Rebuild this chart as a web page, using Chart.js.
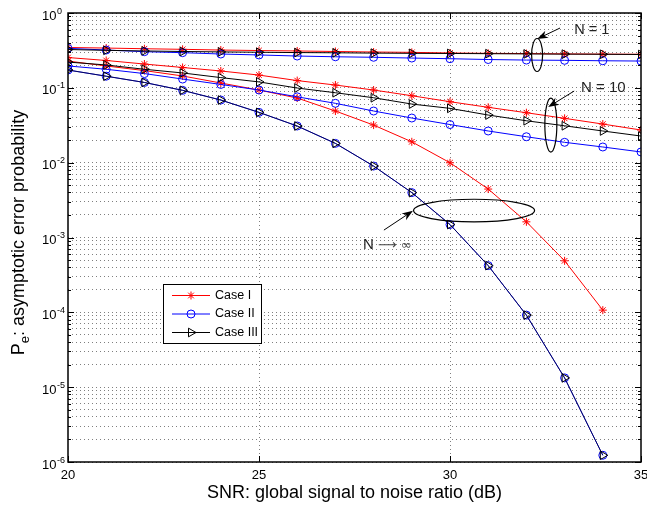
<!DOCTYPE html>
<html>
<head>
<meta charset="utf-8">
<script src="https://cdn.jsdelivr.net/npm/chart.js@4.4.1/dist/chart.umd.min.js"></script>
<style>
  body { margin: 0; background: #fff; }
  #wrap { width: 647px; height: 506px; }
</style>
</head>
<body>
<div id="wrap"><canvas id="chart" width="647" height="506"></canvas></div>
<script>
const FONT = '"Liberation Sans", Arial, Helvetica, sans-serif';

// -------- Data --------
const snr = [20, 21, 22, 23, 24, 25, 26, 27, 28, 29, 30, 31, 32, 33, 34, 35];
const snrInf = [20, 21, 22, 23, 24, 25, 26, 27, 28, 29, 30, 31, 32, 33, 34];
const xTicks = [20, 25, 30, 35];
const yDecades = [-6, -5, -4, -3, -2, -1, 0];
const yMinor = [2, 3, 4, 5, 6, 7, 8, 9];

// N = 1
const caseI_N1   = [0.346, 0.340, 0.333, 0.327, 0.320, 0.315, 0.311, 0.306, 0.301, 0.298, 0.292, 0.289, 0.287, 0.284, 0.282, 0.281];
const caseII_N1  = [0.337, 0.320, 0.304, 0.295, 0.283, 0.275, 0.266, 0.260, 0.256, 0.250, 0.245, 0.239, 0.235, 0.233, 0.230, 0.228];
const caseIII_N1 = [0.325, 0.317, 0.311, 0.306, 0.302, 0.299, 0.296, 0.294, 0.291, 0.289, 0.288, 0.286, 0.284, 0.282, 0.281, 0.279];
// N = 10
const caseI_N10   = [0.254, 0.232, 0.208, 0.187, 0.168, 0.148, 0.125, 0.109, 0.0935, 0.0784, 0.0652, 0.0549, 0.0465, 0.0391, 0.0328, 0.0273];
const caseII_N10  = [0.196, 0.177, 0.155, 0.131, 0.111, 0.0935, 0.0758, 0.0621, 0.0490, 0.0395, 0.0323, 0.0265, 0.0222, 0.0187, 0.0162, 0.0139];
const caseIII_N10 = [0.221, 0.202, 0.177, 0.158, 0.137, 0.120, 0.0994, 0.0860, 0.0737, 0.0607, 0.0532, 0.0433, 0.0363, 0.0311, 0.0265, 0.0227];
// N -> infinity
const caseI_Inf   = [0.228, 0.196, 0.170, 0.144, 0.116, 0.0935, 0.0731, 0.0490, 0.0318, 0.0190, 0.00997, 0.00444, 0.00162, 0.000488, 0.000107];
const caseII_Inf  = [0.173, 0.143, 0.118, 0.0926, 0.0687, 0.0470, 0.0309, 0.0181, 0.00901, 0.00398, 0.00149, 0.000421, 0.0000918, 0.0000133, 0.00000123];
const caseIII_Inf = [0.173, 0.143, 0.118, 0.0926, 0.0687, 0.0470, 0.0309, 0.0181, 0.00901, 0.00398, 0.00149, 0.000421, 0.0000918, 0.0000133, 0.00000123];

// annotations (data coordinates)
const notes = [
  { text: 'N = 1', size: 14.5, tx: 33.25, ty: 0.592, ex: 32.28, ey: 0.2745, rx: 5.5, ry: 16.5,
    from: [32.88, 0.630], to: [32.28, 0.449] },
  { text: 'N = 10', size: 15, tx: 33.43, ty: 0.0994, ex: 32.64, ey: 0.0318, rx: 6, ry: 27,
    from: [33.25, 0.0906], to: [32.57, 0.0554] },
  { text: 'N', tail: '\u27F6 \u221E', size: 15, tx: 27.72, ty: 0.000791, ex: 30.63, ey: 0.00229, rx: 60.5, ry: 11.3,
    from: [28.27, 0.001256], to: [29.03, 0.002275] }
];

const styles = {
  I:   { color: '#ff0000', marker: 'star', r: 4, rot: 0, order: 3, label: 'Case I' },
  II:  { color: '#0000ff', marker: 'circle', r: 4, rot: 0, order: 2, label: 'Case II' },
  III: { color: '#000000', marker: 'triangle', r: 5, rot: 90, order: 1, label: 'Case III' }
};

function series(xs, ys, st, lineColor) {
  return {
    label: st.label,
    data: ys.map((v, i) => ({ x: xs[i], y: v })),
    borderColor: lineColor || st.color,
    pointBorderColor: st.color,
    pointBackgroundColor: 'rgba(0,0,0,0)',
    pointStyle: st.marker,
    pointRadius: st.r,
    pointRotation: st.rot,
    borderWidth: 1,
    pointBorderWidth: 1,
    order: st.order,
    fill: false,
    tension: 0
  };
}

const datasets = [
  series(snr, caseI_N1, styles.I),
  series(snr, caseI_N10, styles.I),
  series(snrInf, caseI_Inf, styles.I),
  series(snr, caseII_N1, styles.II),
  series(snr, caseII_N10, styles.II),
  series(snrInf, caseII_Inf, styles.II),
  series(snr, caseIII_N1, styles.III),
  series(snr, caseIII_N10, styles.III),
  series(snrInf, caseIII_Inf, styles.III, 'rgba(0,0,40,0.75)')
];

const yAllTicks = [];
yDecades.forEach(e => {
  yAllTicks.push({ value: Math.pow(10, e), major: true });
  if (e < 0) yMinor.forEach(m => yAllTicks.push({ value: m * Math.pow(10, e), major: false }));
});

const gridColor = 'rgba(0,0,0,0.5)';

// -------- Marker drawing for the legend --------
function marker(ctx, st, x, y) {
  ctx.save();
  ctx.strokeStyle = st.color;
  ctx.lineWidth = 1;
  ctx.beginPath();
  if (st.marker === 'circle') {
    ctx.arc(x, y, st.r, 0, Math.PI * 2);
  } else if (st.marker === 'star') {
    for (let k = 0; k < 4; k++) {
      const a = k * Math.PI / 4;
      ctx.moveTo(x - Math.cos(a) * st.r, y - Math.sin(a) * st.r);
      ctx.lineTo(x + Math.cos(a) * st.r, y + Math.sin(a) * st.r);
    }
  } else {
    const s = st.r;
    ctx.moveTo(x + s, y);
    ctx.lineTo(x - s * 0.5, y - s * 0.866);
    ctx.lineTo(x - s * 0.5, y + s * 0.866);
    ctx.closePath();
  }
  ctx.stroke();
  ctx.restore();
}

// -------- Frame, ticks, labels, annotations, legend --------
const decorations = {
  id: 'decorations',
  afterDatasetsDraw(chart) {
    const { ctx, chartArea: a, scales: { x, y } } = chart;
    ctx.save();

    // inner tick marks
    ctx.strokeStyle = '#000';
    ctx.lineWidth = 1;
    ctx.beginPath();
    yAllTicks.forEach(t => {
      const py = Math.round(y.getPixelForValue(t.value)) + 0.5;
      const len = t.major ? 6 : 3;
      ctx.moveTo(a.left, py); ctx.lineTo(a.left + len, py);
      ctx.moveTo(a.right, py); ctx.lineTo(a.right - len, py);
    });
    xTicks.forEach(v => {
      const px = Math.round(x.getPixelForValue(v)) + 0.5;
      ctx.moveTo(px, a.bottom); ctx.lineTo(px, a.bottom - 6);
      ctx.moveTo(px, a.top); ctx.lineTo(px, a.top + 6);
    });
    ctx.stroke();

    // frame
    ctx.lineWidth = 1.5;
    ctx.strokeRect(a.left, a.top, a.right - a.left, a.bottom - a.top);

    // y tick labels: 10^n
    ctx.fillStyle = '#000';
    ctx.textAlign = 'left';
    ctx.textBaseline = 'alphabetic';
    yDecades.forEach(e => {
      const py = y.getPixelForValue(Math.pow(10, e));
      ctx.font = '13px ' + FONT;
      ctx.fillText('10', 42, py + 6.5);
      const w = ctx.measureText('10').width;
      ctx.font = '9px ' + FONT;
      ctx.fillText(e === 0 ? '0' : '-' + Math.abs(e), 42 + w + 0.5, py + 0.5);
    });

    // y title with subscript
    ctx.save();
    ctx.translate(24, (a.top + a.bottom) / 2 - 5);
    ctx.rotate(-Math.PI / 2);
    ctx.font = '18px ' + FONT;
    const wP = ctx.measureText('P').width;
    const rest = ': asymptotic error probability';
    const wR = ctx.measureText(rest).width;
    ctx.font = '13px ' + FONT;
    const wE = ctx.measureText('e').width;
    let cx = -(wP + wE + wR) / 2;
    ctx.font = '18px ' + FONT;
    ctx.fillText('P', cx, 0);
    ctx.font = '13px ' + FONT;
    ctx.fillText('e', cx + wP, 5);
    ctx.font = '18px ' + FONT;
    ctx.fillText(rest, cx + wP + wE, 0);
    ctx.restore();

    // annotations
    notes.forEach(n => {
      ctx.strokeStyle = '#000';
      ctx.lineWidth = 1.2;
      ctx.beginPath();
      ctx.ellipse(x.getPixelForValue(n.ex), y.getPixelForValue(n.ey), n.rx, n.ry, 0, 0, Math.PI * 2);
      ctx.stroke();

      const x1 = x.getPixelForValue(n.from[0]), y1 = y.getPixelForValue(n.from[1]);
      const x2 = x.getPixelForValue(n.to[0]), y2 = y.getPixelForValue(n.to[1]);
      const ang = Math.atan2(y2 - y1, x2 - x1);
      const hl = 11, hw = 4;
      ctx.lineWidth = 1;
      ctx.beginPath();
      ctx.moveTo(x1, y1);
      ctx.lineTo(x2 - Math.cos(ang) * hl * 0.7, y2 - Math.sin(ang) * hl * 0.7);
      ctx.stroke();
      ctx.fillStyle = '#000';
      ctx.beginPath();
      ctx.moveTo(x2, y2);
      ctx.lineTo(x2 - Math.cos(ang) * hl - Math.sin(ang) * hw, y2 - Math.sin(ang) * hl + Math.cos(ang) * hw);
      ctx.lineTo(x2 - Math.cos(ang) * hl * 0.7, y2 - Math.sin(ang) * hl * 0.7);
      ctx.lineTo(x2 - Math.cos(ang) * hl + Math.sin(ang) * hw, y2 - Math.sin(ang) * hl - Math.cos(ang) * hw);
      ctx.closePath();
      ctx.fill();

      const tx = x.getPixelForValue(n.tx), ty = y.getPixelForValue(n.ty);
      ctx.font = n.size + 'px ' + FONT;
      ctx.textBaseline = 'middle';
      ctx.textAlign = 'left';
      ctx.fillStyle = '#222';
      ctx.fillText(n.text, tx, ty);
      if (n.tail) {
        const w = ctx.measureText(n.text + ' ').width;
        ctx.font = '13px "DejaVu Sans", sans-serif';
        ctx.fillStyle = '#444';
        ctx.fillText(n.tail, tx + w, ty + 1);
      }
    });

    // legend box
    const lx = a.left + 95, ly = a.top + 271, lw = 98, lh = 59;
    ctx.fillStyle = '#fff';
    ctx.fillRect(lx, ly, lw, lh);
    ctx.strokeStyle = '#000';
    ctx.lineWidth = 1;
    ctx.strokeRect(lx + 0.5, ly + 0.5, lw, lh);
    ctx.font = '12.5px ' + FONT;
    ctx.textBaseline = 'middle';
    [styles.I, styles.II, styles.III].forEach((st, i) => {
      const ry = ly + 11.5 + i * 18.5;
      ctx.strokeStyle = st.color;
      ctx.beginPath();
      ctx.moveTo(lx + 9, ry); ctx.lineTo(lx + 47, ry);
      ctx.stroke();
      marker(ctx, st, lx + 28, ry);
      ctx.fillStyle = '#000';
      ctx.fillText(st.label, lx + 52, ry);
    });

    ctx.restore();
  }
};

new Chart(document.getElementById('chart'), {
  type: 'line',
  data: { datasets },
  options: {
    responsive: false,
    animation: false,
    layout: { padding: { top: 13, right: 6, left: 0, bottom: 0 } },
    plugins: { legend: { display: false }, tooltip: { enabled: false } },
    scales: {
      x: {
        type: 'linear',
        min: 20,
        max: 35,
        afterBuildTicks: s => { s.ticks = xTicks.map(v => ({ value: v })); },
        afterFit: s => { s.height = 44; s.paddingLeft = 0; s.paddingRight = 0; },
        ticks: { font: { family: FONT, size: 13 }, color: '#000', padding: 6, maxRotation: 0, autoSkip: false },
        grid: {
          color: c => (c.tick && (c.tick.value === 25 || c.tick.value === 30)) ? gridColor : 'rgba(0,0,0,0)',
          drawTicks: false,
          lineWidth: 1
        },
        border: { display: false, dash: [1, 3] },
        title: {
          display: true,
          text: 'SNR: global signal to noise ratio (dB)',
          font: { family: FONT, size: 18 },
          color: '#000',
          padding: { top: 0, bottom: 2 }
        }
      },
      y: {
        type: 'logarithmic',
        min: 1e-6,
        max: 1,
        afterBuildTicks: s => { s.ticks = yAllTicks.map(t => ({ value: t.value, major: t.major })); },
        afterFit: s => { s.width = 68; s.paddingTop = 0; s.paddingBottom = 0; },
        ticks: { display: false },
        grid: { color: gridColor, drawTicks: false, lineWidth: 1 },
        border: { display: false, dash: [1, 3] }
      }
    }
  },
  plugins: [decorations]
});
</script>
</body>
</html>
